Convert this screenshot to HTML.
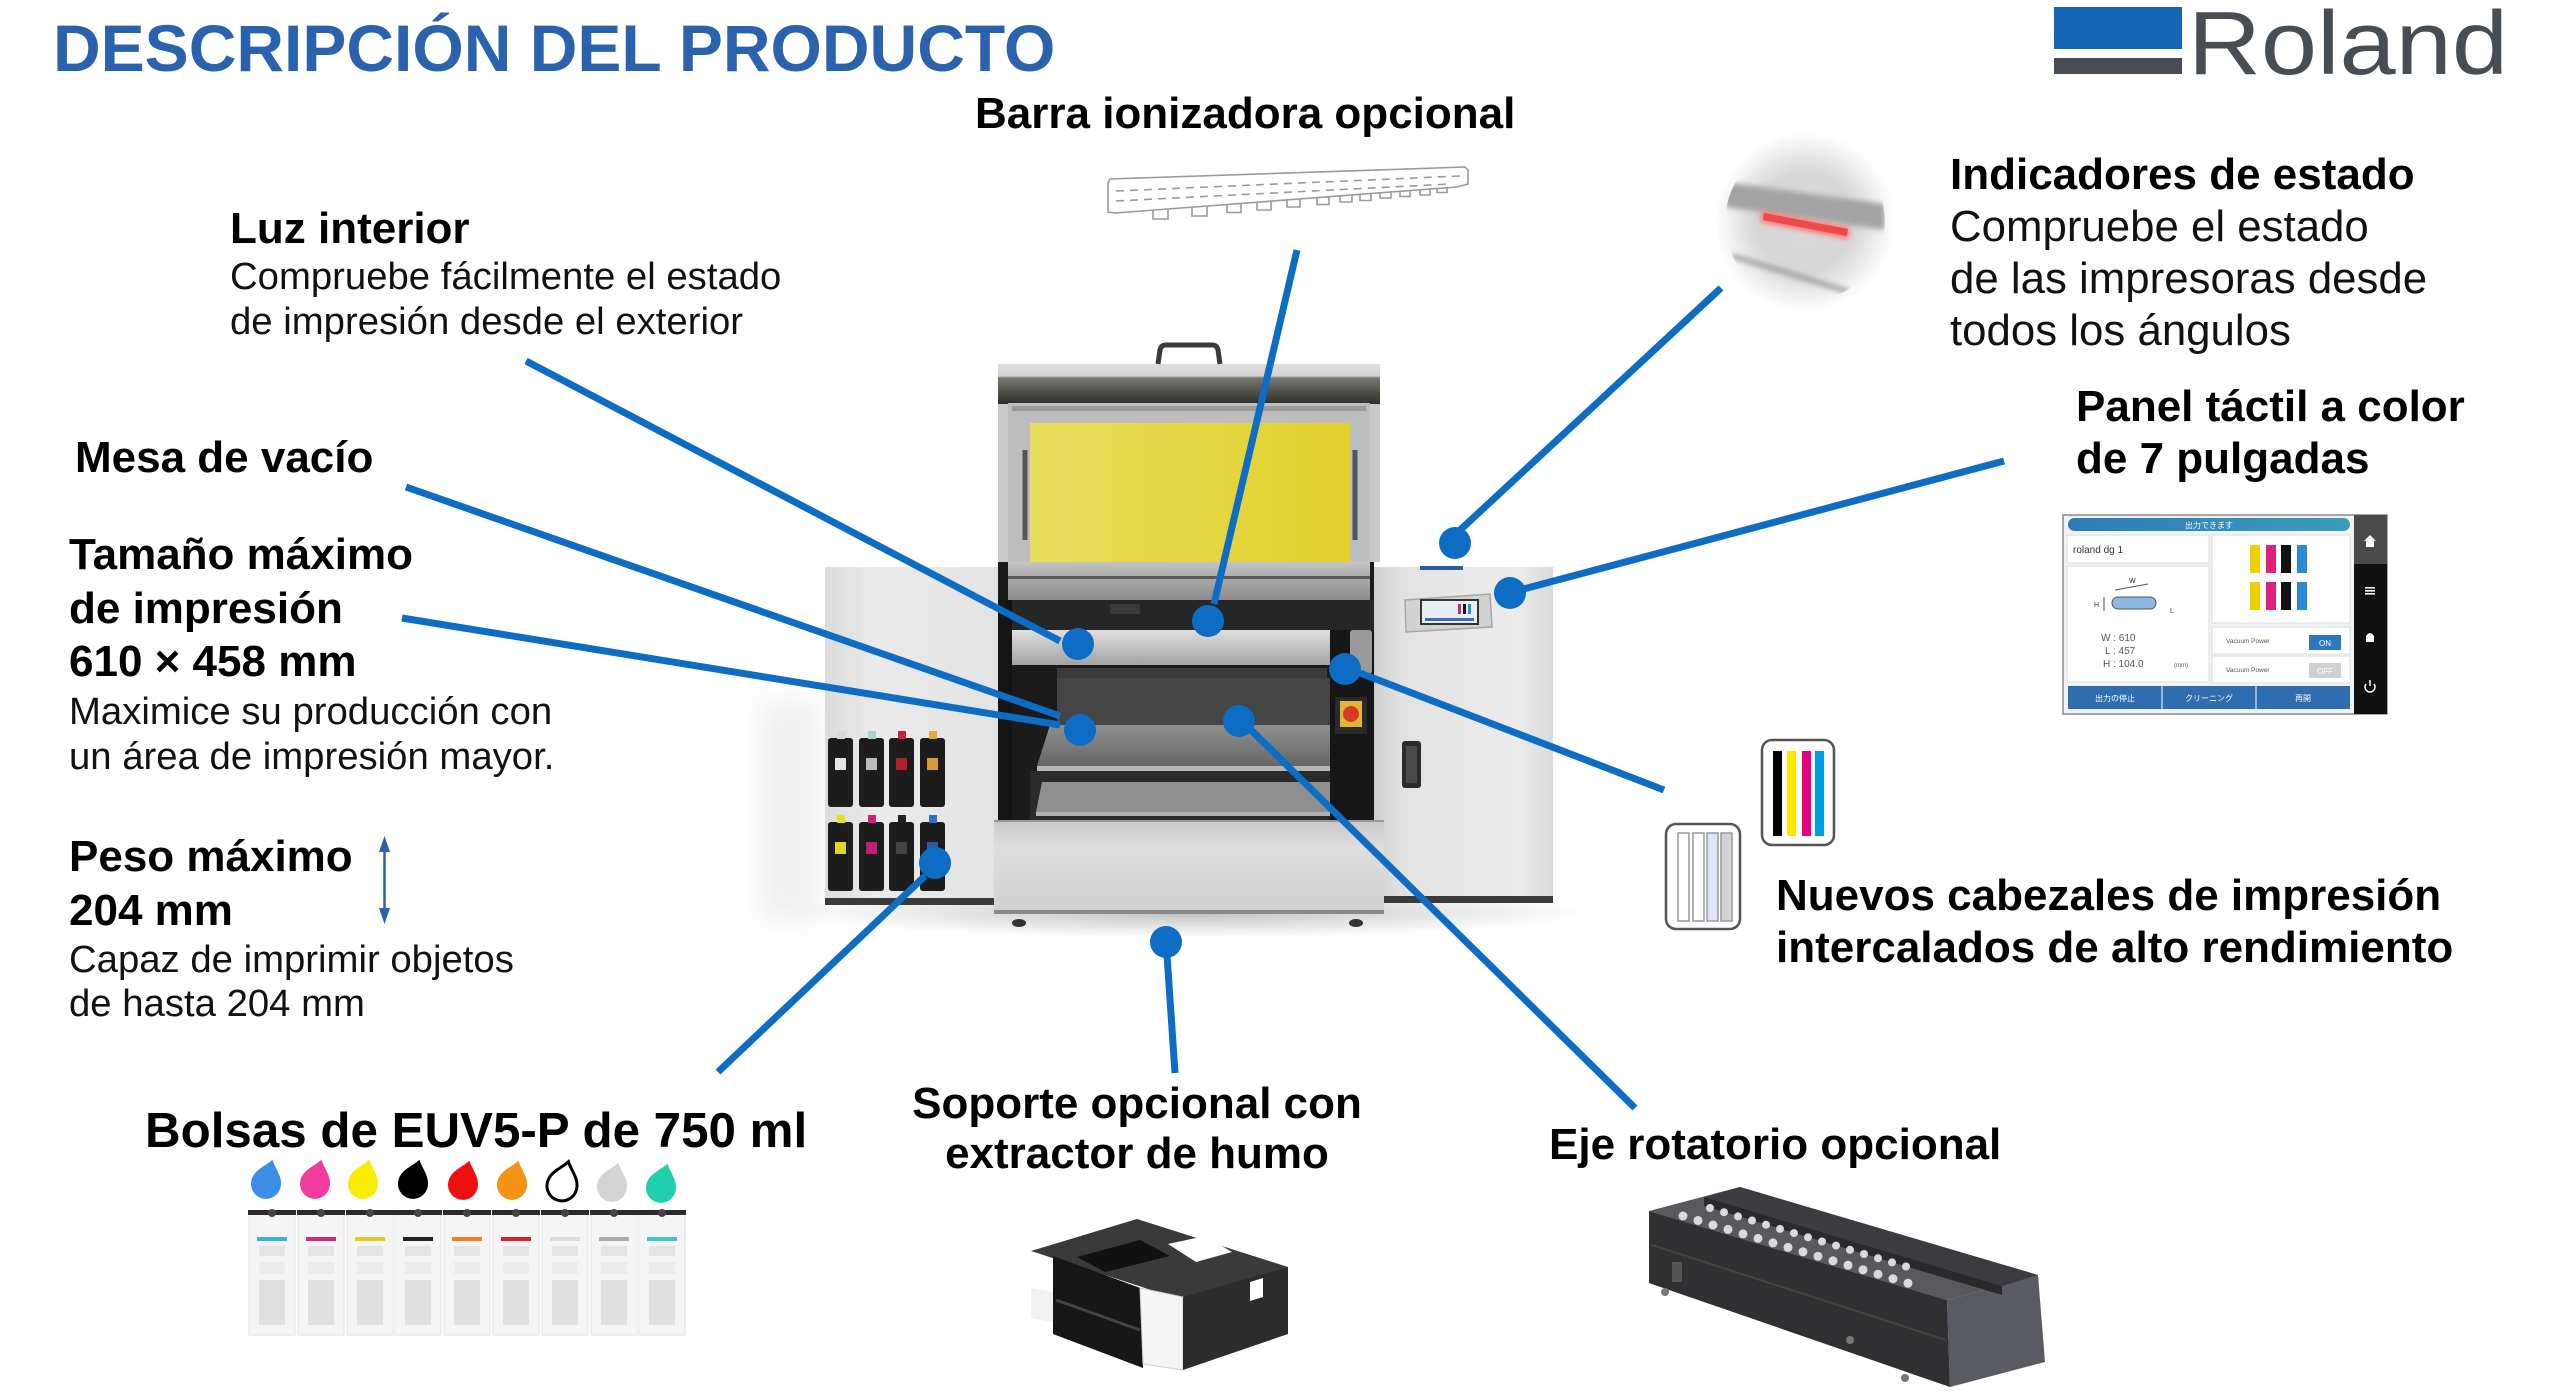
<!DOCTYPE html>
<html><head><meta charset="utf-8">
<style>
html,body{margin:0;padding:0;background:#fff;}
body{width:2560px;height:1395px;overflow:hidden;}
svg{display:block;}
text{font-family:"Liberation Sans","Noto Sans CJK JP",Arial,sans-serif;}
.b{font-weight:bold;font-size:44px;fill:#000;}
.r1{font-size:38.3px;fill:#111;}
.r2{font-size:43.8px;fill:#111;}
</style></head><body>
<svg width="2560" height="1395" viewBox="0 0 2560 1395" xmlns="http://www.w3.org/2000/svg">
<defs>
<linearGradient id="cabL" x1="0" y1="0" x2="1" y2="0"><stop offset="0" stop-color="#dcdcdc"/><stop offset="0.3" stop-color="#ebebeb"/><stop offset="1" stop-color="#e3e3e3"/></linearGradient>
<linearGradient id="cabR" x1="0" y1="0" x2="1" y2="0"><stop offset="0" stop-color="#cdcdcd"/><stop offset="0.15" stop-color="#e2e2e2"/><stop offset="0.8" stop-color="#ececec"/><stop offset="1" stop-color="#dadada"/></linearGradient>
<linearGradient id="lidTop" x1="0" y1="0" x2="0" y2="1"><stop offset="0" stop-color="#dedede"/><stop offset="0.3" stop-color="#d2d2d2"/><stop offset="0.35" stop-color="#77776c"/><stop offset="1" stop-color="#2e2e29"/></linearGradient>
<linearGradient id="yel" x1="0" y1="0" x2="1" y2="0"><stop offset="0" stop-color="#e8dc5c"/><stop offset="0.5" stop-color="#e5d744"/><stop offset="1" stop-color="#e2d02c"/></linearGradient>
<linearGradient id="metal" x1="0" y1="0" x2="0" y2="1"><stop offset="0" stop-color="#e0e0e0"/><stop offset="1" stop-color="#a2a2a2"/></linearGradient>
<linearGradient id="gant" x1="0" y1="0" x2="0" y2="1"><stop offset="0" stop-color="#c4c4c4"/><stop offset="1" stop-color="#8a8a8a"/></linearGradient>
<linearGradient id="tbl" x1="0" y1="0" x2="0" y2="1"><stop offset="0" stop-color="#909090"/><stop offset="1" stop-color="#666"/></linearGradient>
<linearGradient id="front" x1="0" y1="0" x2="0" y2="1"><stop offset="0" stop-color="#c8c8c8"/><stop offset="0.3" stop-color="#dedede"/><stop offset="1" stop-color="#d0d0d0"/></linearGradient>
<linearGradient id="pbar" x1="0" y1="0" x2="1" y2="0"><stop offset="0" stop-color="#2d7cb8"/><stop offset="1" stop-color="#3a9cb8"/></linearGradient>
<radialGradient id="shad" cx="0.5" cy="0.5" r="0.5"><stop offset="0" stop-color="#000" stop-opacity="0.25"/><stop offset="1" stop-color="#000" stop-opacity="0"/></radialGradient>
<radialGradient id="indg" cx="1805" cy="222" r="90" gradientUnits="userSpaceOnUse"><stop offset="0" stop-color="#dadada"/><stop offset="0.55" stop-color="#d7d7d7"/><stop offset="0.8" stop-color="#ededed"/><stop offset="1" stop-color="#ffffff"/></radialGradient>
<clipPath id="indc"><circle cx="1805" cy="222" r="80"/></clipPath>
<filter id="bl" x="-20%" y="-50%" width="140%" height="200%"><feGaussianBlur stdDeviation="3"/></filter>
<filter id="bl2" x="-50%" y="-50%" width="200%" height="200%"><feGaussianBlur stdDeviation="14"/></filter>
</defs>

<!-- Title -->
<text x="53" y="71" font-size="66" font-weight="bold" fill="#2b62ad">DESCRIPCIÓN DEL PRODUCTO</text>

<!-- Logo -->
<rect x="2054" y="7" width="128" height="42" fill="#1565b4"/>
<rect x="2054" y="58" width="128" height="16" fill="#474d53"/>
<text x="2188" y="74" font-size="90" fill="#474d53" textLength="320" lengthAdjust="spacingAndGlyphs">Roland</text>

<!-- Barra ionizadora drawing -->
<g fill="none" stroke="#9a9a9a" stroke-width="1.6">
<path d="M1108,183 L1110,179 L1465,167 L1468,170 L1468,184 L1457,187 L1115,213 L1108,212 Z"/>
<line x1="1116" y1="191" x2="1460" y2="176" stroke-dasharray="8,6"/>
<line x1="1116" y1="201" x2="1450" y2="184" stroke-dasharray="8,6"/>
<path d="M1153,210 v9 h15 v-10"/>
<path d="M1192,207 v9 h15 v-10"/>
<path d="M1227,204.5 v8 h14 v-9"/>
<path d="M1257,202 v8 h14 v-9"/>
<path d="M1287,200 v7 h13 v-8"/>
<path d="M1317,197.5 v7 h12 v-8"/>
<path d="M1340,196 v6 h12 v-7"/>
<path d="M1360,194.5 v6 h11 v-7"/>
<path d="M1380,193 v5 h11 v-6"/>
<path d="M1400,191.5 v5 h10 v-6"/>
<path d="M1420,190 v5 h10 v-6"/>
<path d="M1437,188.5 v4 h10 v-5"/>
</g>

<!-- Indicator image -->
<circle cx="1805" cy="222" r="90" fill="url(#indg)"/>
<g clip-path="url(#indc)">
<polygon points="1725,182 1885,204 1885,230 1725,207" fill="#a3a3a3" filter="url(#bl)"/>
<polygon points="1762,211 1850,228 1848,239 1760,222" fill="#ff7070" filter="url(#bl)"/>
<polygon points="1764,213 1848,229 1847,236 1763,220" fill="#ef4a4a"/>
<line x1="1732" y1="256" x2="1850" y2="292" stroke="#8a8a8a" stroke-width="4" filter="url(#bl)"/>
</g>

<!-- Printer shadow -->
<ellipse cx="1190" cy="912" rx="400" ry="26" fill="url(#shad)"/>
<rect x="760" y="700" width="60" height="220" fill="#000" opacity="0.06" filter="url(#bl2)"/>

<!-- Left cabinet -->
<rect x="825" y="567" width="175" height="337" fill="url(#cabL)"/>
<rect x="825" y="898" width="175" height="7" fill="#3a3a3a"/>
<g>
<rect x="828" y="738" width="25" height="69" rx="3" fill="#1c1c1c"/><rect x="837" y="731" width="8" height="8" fill="#d8d8d8"/><rect x="835" y="758" width="11" height="12" fill="#e6e6e6"/>
<rect x="859" y="738" width="25" height="69" rx="3" fill="#1c1c1c"/><rect x="868" y="731" width="8" height="8" fill="#a8d8d4"/><rect x="866" y="758" width="11" height="12" fill="#bbbbbb"/>
<rect x="889" y="738" width="25" height="69" rx="3" fill="#1c1c1c"/><rect x="898" y="731" width="8" height="8" fill="#c8203c"/><rect x="896" y="758" width="11" height="12" fill="#b02030"/>
<rect x="920" y="738" width="25" height="69" rx="3" fill="#1c1c1c"/><rect x="929" y="731" width="8" height="8" fill="#e8a838"/><rect x="927" y="758" width="11" height="12" fill="#d89a30"/>
<rect x="828" y="822" width="25" height="69" rx="3" fill="#1c1c1c"/><rect x="837" y="815" width="8" height="8" fill="#e8e020"/><rect x="835" y="842" width="11" height="12" fill="#e0d820"/>
<rect x="859" y="822" width="25" height="69" rx="3" fill="#1c1c1c"/><rect x="868" y="815" width="8" height="8" fill="#d02080"/><rect x="866" y="842" width="11" height="12" fill="#c02070"/>
<rect x="889" y="822" width="25" height="69" rx="3" fill="#1c1c1c"/><rect x="898" y="815" width="8" height="8" fill="#222"/><rect x="896" y="842" width="11" height="12" fill="#444"/>
<rect x="920" y="822" width="25" height="69" rx="3" fill="#1c1c1c"/><rect x="929" y="815" width="8" height="8" fill="#3070c0"/><rect x="927" y="842" width="11" height="12" fill="#2a5aa0"/>
</g>

<!-- Right cabinet -->
<rect x="1373" y="567" width="180" height="335" fill="url(#cabR)"/>
<rect x="1373" y="896" width="180" height="7" fill="#3a3a3a"/>
<rect x="1402" y="741" width="19" height="47" rx="3" fill="#2b2b2b"/>
<rect x="1406" y="746" width="11" height="37" fill="#4a4a4a"/>
<rect x="1420" y="566" width="43" height="4" fill="#2a5aa0"/>
<polygon points="1405,600 1490,594 1492,627 1406,632" fill="#d2d2d2" stroke="#a5a5a5" stroke-width="1.5"/>
<rect x="1421" y="600" width="57" height="24" fill="#e9eef5" stroke="#333" stroke-width="2"/>
<rect x="1425" y="618" width="49" height="3" fill="#3b6fb5"/>
<rect x="1458" y="604" width="3" height="10" fill="#d02080"/><rect x="1463" y="604" width="3" height="10" fill="#111"/><rect x="1468" y="604" width="3" height="10" fill="#2a8ad8"/>

<!-- Main body center -->
<rect x="998" y="560" width="376" height="262" fill="#1b1b1b"/>
<!-- Lid -->
<rect x="998" y="364" width="382" height="198" fill="#c9c9c9"/>
<rect x="998" y="364" width="382" height="40" fill="url(#lidTop)"/>
<rect x="1008" y="403" width="362" height="159" fill="#bdbdbd"/>
<rect x="1012" y="406" width="354" height="5" fill="#9a9a9a"/>
<rect x="1030" y="423" width="320" height="139" fill="url(#yel)"/>
<line x1="1025" y1="450" x2="1025" y2="540" stroke="#555" stroke-width="5"/>
<line x1="1355" y1="450" x2="1355" y2="540" stroke="#555" stroke-width="5"/>
<path d="M1158,364 L1160,350 Q1161,345 1166,345 L1212,345 Q1217,345 1218,350 L1220,364" stroke="#3a3a3a" stroke-width="5" fill="none"/>
<!-- gantry -->
<rect x="1008" y="562" width="362" height="38" fill="url(#gant)"/>
<rect x="1008" y="576" width="362" height="3" fill="#5a5a5a"/>
<rect x="1003" y="600" width="371" height="30" fill="#262626"/>
<rect x="1110" y="604" width="30" height="10" fill="#3a3a3a"/>
<polygon points="1010,630 1330,630 1330,665 1010,665" fill="url(#metal)"/>
<rect x="1057" y="668" width="270" height="10" fill="#3a3a3a"/>
<rect x="1057" y="678" width="273" height="48" fill="#454545"/>
<rect x="1003" y="665" width="54" height="61" fill="#1a1a1a"/>
<polygon points="1050,725 1331,725 1334,766 1037,766" fill="url(#tbl)"/>
<rect x="1037" y="766" width="297" height="5" fill="#b5b5b5"/>
<rect x="1030" y="771" width="305" height="50" fill="#2a2a2a"/>
<polygon points="1042,782 1330,782 1334,812 1036,812" fill="#8f8f8f"/>
<rect x="1036" y="812" width="298" height="4" fill="#b0b0b0"/>
<rect x="998" y="600" width="14" height="222" fill="#141414"/>
<rect x="1330" y="630" width="44" height="192" fill="#161616"/>
<rect x="1350" y="630" width="22" height="44" rx="3" fill="#9a9a9a"/>
<rect x="1335" y="697" width="32" height="37" fill="#2a2a2a"/>
<rect x="1340" y="701" width="22" height="26" fill="#e2b632"/>
<circle cx="1351" cy="714" r="8" fill="#d83a2a"/>
<!-- front lower -->
<rect x="994" y="820" width="390" height="94" fill="url(#front)"/>
<rect x="994" y="820" width="390" height="2" fill="#999"/>
<rect x="994" y="910" width="390" height="4" fill="#8a8a8a"/>
<ellipse cx="1019" cy="923" rx="7" ry="4" fill="#333"/>
<ellipse cx="1356" cy="923" rx="7" ry="4" fill="#333"/>

<!-- Connectors -->
<g stroke="#0d6cc3" stroke-width="7" fill="none">
<line x1="526" y1="361" x2="1060" y2="641"/>
<line x1="1297" y1="250" x2="1214" y2="604"/>
<line x1="406" y1="487" x2="1060" y2="716"/>
<line x1="402" y1="618" x2="1060" y2="725"/>
<line x1="1250" y1="729" x2="1635" y2="1108"/>
<line x1="1360" y1="673" x2="1664" y2="790"/>
<line x1="1458" y1="532" x2="1721" y2="288"/>
<line x1="1520" y1="590" x2="2004" y2="461"/>
<line x1="925" y1="876" x2="718" y2="1072"/>
<line x1="1167" y1="955" x2="1175" y2="1073"/>
</g>
<g fill="#0d6cc3">
<circle cx="1078" cy="644" r="16"/>
<circle cx="1208" cy="621" r="16"/>
<circle cx="1080" cy="730" r="16"/>
<circle cx="1239" cy="721" r="16"/>
<circle cx="1345" cy="669" r="16"/>
<circle cx="1455" cy="543" r="16"/>
<circle cx="1510" cy="593" r="16"/>
<circle cx="935" cy="863" r="16"/>
<circle cx="1166" cy="942" r="16"/>
</g>

<!-- Left labels -->
<text class="b" x="975" y="128">Barra ionizadora opcional</text>
<text class="b" x="230" y="243">Luz interior</text>
<text class="r1" x="230" y="289">Compruebe fácilmente el estado</text>
<text class="r1" x="230" y="334">de impresión desde el exterior</text>
<text class="b" x="75" y="472">Mesa de vacío</text>
<text class="b" x="69" y="569">Tamaño máximo</text>
<text class="b" x="69" y="623">de impresión</text>
<text class="b" x="69" y="676">610 × 458 mm</text>
<text class="r1" x="69" y="724">Maximice su producción con</text>
<text class="r1" x="69" y="769">un área de impresión mayor.</text>
<text class="b" x="69" y="871">Peso máximo</text>
<text class="b" x="69" y="925">204 mm</text>
<text class="r1" x="69" y="972">Capaz de imprimir objetos</text>
<text class="r1" x="69" y="1016">de hasta 204 mm</text>
<line x1="384.5" y1="848" x2="384.5" y2="912" stroke="#2e5fa8" stroke-width="2.5"/>
<polygon points="384.5,836 379,852 390,852" fill="#2e5fa8"/>
<polygon points="384.5,924 379,908 390,908" fill="#2e5fa8"/>

<!-- Right labels -->
<text class="b" x="1950" y="189">Indicadores de estado</text>
<text class="r2" x="1950" y="241">Compruebe el estado</text>
<text class="r2" x="1950" y="293">de las impresoras desde</text>
<text class="r2" x="1950" y="345">todos los ángulos</text>
<text class="b" x="2076" y="421">Panel táctil a color</text>
<text class="b" x="2076" y="473">de 7 pulgadas</text>
<text class="b" x="1776" y="910">Nuevos cabezales de impresión</text>
<text class="b" x="1776" y="962">intercalados de alto rendimiento</text>
<text class="b" x="1549" y="1159">Eje rotatorio opcional</text>
<text class="b" x="1137" y="1118" text-anchor="middle">Soporte opcional con</text>
<text class="b" x="1137" y="1168" text-anchor="middle">extractor de humo</text>
<text x="145" y="1147" font-size="49.3" font-weight="bold" fill="#000">Bolsas de EUV5-P de 750 ml</text>

<!-- Panel screenshot -->
<g>
<rect x="2063" y="515" width="324" height="199" fill="#f1f4f7" stroke="#8a8a8a" stroke-width="1.5"/>
<rect x="2354" y="515" width="33" height="199" fill="#111"/>
<rect x="2354" y="515" width="33" height="49" fill="#4a4a4a"/>
<path d="M2364,541 L2370,535 L2376,541 L2374,541 L2374,547 L2366,547 L2366,541 Z" fill="#fff"/>
<rect x="2365" y="587" width="10" height="1.6" fill="#fff"/><rect x="2365" y="590" width="10" height="1.6" fill="#fff"/><rect x="2365" y="593" width="10" height="1.6" fill="#fff"/>
<path d="M2366,642 L2366,636 Q2370,630 2374,636 L2374,642 Z" fill="#fff"/>
<path d="M2366,684 A5,5 0 1 0 2374,684" stroke="#fff" stroke-width="1.5" fill="none"/><line x1="2370" y1="680" x2="2370" y2="686" stroke="#fff" stroke-width="1.5"/>
<rect x="2068" y="518" width="282" height="13" rx="6.5" fill="url(#pbar)"/>
<text x="2209" y="528" font-size="8" fill="#fff" text-anchor="middle">出力できます</text>
<rect x="2067" y="535" width="142" height="28" fill="#fff" stroke="#ddd"/>
<text x="2073" y="553" font-size="10" fill="#333">roland dg 1</text>
<rect x="2067" y="566" width="142" height="116" fill="#fff" stroke="#ddd"/>
<rect x="2112" y="597" width="44" height="12" rx="6" fill="#8fb8e0" stroke="#456" stroke-width="1"/>
<line x1="2115" y1="590" x2="2148" y2="584" stroke="#555" stroke-width="1"/>
<text x="2129" y="583" font-size="7" fill="#333">W</text>
<line x1="2104" y1="597" x2="2104" y2="611" stroke="#555" stroke-width="1"/>
<text x="2094" y="607" font-size="7" fill="#333">H</text>
<text x="2170" y="613" font-size="7" fill="#333">L</text>
<text x="2101" y="641" font-size="10" fill="#555">W :  610</text>
<text x="2105" y="654" font-size="10" fill="#555">L :  457</text>
<text x="2103" y="667" font-size="10" fill="#555">H :  104.0</text>
<text x="2174" y="667" font-size="6" fill="#555">(mm)</text>
<rect x="2212" y="535" width="138" height="88" fill="#fff" stroke="#ddd"/>
<rect x="2250" y="545" width="10" height="28" fill="#f0d000"/><rect x="2266" y="545" width="10" height="28" fill="#e0207a"/><rect x="2281" y="545" width="10" height="28" fill="#111"/><rect x="2297" y="545" width="10" height="28" fill="#2a8ad8"/>
<rect x="2250" y="582" width="10" height="28" fill="#f0d000"/><rect x="2266" y="582" width="10" height="28" fill="#e0207a"/><rect x="2281" y="582" width="10" height="28" fill="#111"/><rect x="2297" y="582" width="10" height="28" fill="#2a8ad8"/>
<rect x="2212" y="627" width="138" height="27" fill="#fff" stroke="#ddd"/>
<text x="2226" y="643" font-size="6.5" fill="#555">Vacuum Power</text>
<rect x="2309" y="635" width="32" height="15" fill="#2a78be"/>
<text x="2325" y="646" font-size="8" fill="#fff" text-anchor="middle">ON</text>
<rect x="2212" y="656" width="138" height="27" fill="#fff" stroke="#ddd"/>
<text x="2226" y="672" font-size="6.5" fill="#555">Vacuum Power</text>
<rect x="2309" y="663" width="32" height="15" fill="#d0d0d0"/>
<text x="2325" y="674" font-size="8" fill="#fff" text-anchor="middle">OFF</text>
<rect x="2068" y="686" width="282" height="23" fill="#2f6db0"/>
<line x1="2162" y1="686" x2="2162" y2="709" stroke="#fff" stroke-width="1"/>
<line x1="2256" y1="686" x2="2256" y2="709" stroke="#fff" stroke-width="1"/>
<text x="2115" y="701" font-size="8" fill="#fff" text-anchor="middle">出力の停止</text>
<text x="2209" y="701" font-size="8" fill="#fff" text-anchor="middle">クリーニング</text>
<text x="2303" y="701" font-size="8" fill="#fff" text-anchor="middle">再開</text>
</g>

<!-- Heads icons -->
<rect x="1762" y="740" width="72" height="105" rx="10" fill="#fff" stroke="#555" stroke-width="2.5"/>
<rect x="1773" y="751" width="9" height="85" fill="#000"/>
<rect x="1787" y="751" width="9" height="85" fill="#ffe600"/>
<rect x="1802" y="751" width="9" height="85" fill="#e6007e"/>
<rect x="1815" y="751" width="9" height="85" fill="#00a0e0"/>
<rect x="1666" y="824" width="74" height="105" rx="10" fill="#fff" stroke="#555" stroke-width="2.5"/>
<rect x="1678" y="833" width="11" height="88" fill="#fff" stroke="#999" stroke-width="1.5"/>
<rect x="1693" y="833" width="11" height="88" fill="#fff" stroke="#999" stroke-width="1.5"/>
<rect x="1707" y="833" width="11" height="88" fill="#dde6f2" stroke="#999" stroke-width="1.5"/>
<rect x="1721" y="833" width="11" height="88" fill="#d4d4d4" stroke="#999" stroke-width="1.5"/>

<!-- Drops -->
<g>
<path transform="translate(267,1180) rotate(15)" d="M0,-21 C5,-13 15,-7 15,4 A15,15 0 0 1 -15,4 C-15,-7 -5,-13 0,-21 Z" fill="#3c8ee8"/>
<path transform="translate(316,1180) rotate(15)" d="M0,-21 C5,-13 15,-7 15,4 A15,15 0 0 1 -15,4 C-15,-7 -5,-13 0,-21 Z" fill="#f03c9c"/>
<path transform="translate(364,1180) rotate(15)" d="M0,-21 C5,-13 15,-7 15,4 A15,15 0 0 1 -15,4 C-15,-7 -5,-13 0,-21 Z" fill="#f8ec00"/>
<path transform="translate(414,1180) rotate(15)" d="M0,-21 C5,-13 15,-7 15,4 A15,15 0 0 1 -15,4 C-15,-7 -5,-13 0,-21 Z" fill="#000"/>
<path transform="translate(464,1181) rotate(15)" d="M0,-21 C5,-13 15,-7 15,4 A15,15 0 0 1 -15,4 C-15,-7 -5,-13 0,-21 Z" fill="#ee1010"/>
<path transform="translate(513,1181) rotate(15)" d="M0,-21 C5,-13 15,-7 15,4 A15,15 0 0 1 -15,4 C-15,-7 -5,-13 0,-21 Z" fill="#f39416"/>
<path transform="translate(563,1182) rotate(15)" d="M0,-21 C5,-13 15,-7 15,4 A15,15 0 0 1 -15,4 C-15,-7 -5,-13 0,-21 Z" fill="#fff" stroke="#000" stroke-width="3"/>
<path transform="translate(613,1183) rotate(15)" d="M0,-21 C5,-13 15,-7 15,4 A15,15 0 0 1 -15,4 C-15,-7 -5,-13 0,-21 Z" fill="#d4d4d4"/>
<path transform="translate(662,1184) rotate(15)" d="M0,-21 C5,-13 15,-7 15,4 A15,15 0 0 1 -15,4 C-15,-7 -5,-13 0,-21 Z" fill="#1fcfae"/>
</g>

<!-- Ink bags -->
<g>
<g transform="translate(249,0)"><rect x="0" y="1213" width="46" height="122" fill="#f5f5f5" stroke="#e2e2e2"/><rect x="-1" y="1210" width="48" height="5" fill="#2a2a2a"/><circle cx="23" cy="1213" r="4" fill="#444"/><rect x="8" y="1237" width="30" height="4" fill="#3ab0e0"/><rect x="10" y="1246" width="26" height="10" fill="#e4e4e4"/><rect x="10" y="1262" width="26" height="12" fill="#ececec"/><rect x="10" y="1280" width="26" height="45" fill="#e0e0e0"/></g>
<g transform="translate(298,0)"><rect x="0" y="1213" width="46" height="122" fill="#f5f5f5" stroke="#e2e2e2"/><rect x="-1" y="1210" width="48" height="5" fill="#2a2a2a"/><circle cx="23" cy="1213" r="4" fill="#444"/><rect x="8" y="1237" width="30" height="4" fill="#d02a7a"/><rect x="10" y="1246" width="26" height="10" fill="#e4e4e4"/><rect x="10" y="1262" width="26" height="12" fill="#ececec"/><rect x="10" y="1280" width="26" height="45" fill="#e0e0e0"/></g>
<g transform="translate(347,0)"><rect x="0" y="1213" width="46" height="122" fill="#f5f5f5" stroke="#e2e2e2"/><rect x="-1" y="1210" width="48" height="5" fill="#2a2a2a"/><circle cx="23" cy="1213" r="4" fill="#444"/><rect x="8" y="1237" width="30" height="4" fill="#e8c820"/><rect x="10" y="1246" width="26" height="10" fill="#e4e4e4"/><rect x="10" y="1262" width="26" height="12" fill="#ececec"/><rect x="10" y="1280" width="26" height="45" fill="#e0e0e0"/></g>
<g transform="translate(395,0)"><rect x="0" y="1213" width="46" height="122" fill="#f5f5f5" stroke="#e2e2e2"/><rect x="-1" y="1210" width="48" height="5" fill="#2a2a2a"/><circle cx="23" cy="1213" r="4" fill="#444"/><rect x="8" y="1237" width="30" height="4" fill="#222"/><rect x="10" y="1246" width="26" height="10" fill="#e4e4e4"/><rect x="10" y="1262" width="26" height="12" fill="#ececec"/><rect x="10" y="1280" width="26" height="45" fill="#e0e0e0"/></g>
<g transform="translate(444,0)"><rect x="0" y="1213" width="46" height="122" fill="#f5f5f5" stroke="#e2e2e2"/><rect x="-1" y="1210" width="48" height="5" fill="#2a2a2a"/><circle cx="23" cy="1213" r="4" fill="#444"/><rect x="8" y="1237" width="30" height="4" fill="#f08020"/><rect x="10" y="1246" width="26" height="10" fill="#e4e4e4"/><rect x="10" y="1262" width="26" height="12" fill="#ececec"/><rect x="10" y="1280" width="26" height="45" fill="#e0e0e0"/></g>
<g transform="translate(493,0)"><rect x="0" y="1213" width="46" height="122" fill="#f5f5f5" stroke="#e2e2e2"/><rect x="-1" y="1210" width="48" height="5" fill="#2a2a2a"/><circle cx="23" cy="1213" r="4" fill="#444"/><rect x="8" y="1237" width="30" height="4" fill="#e02030"/><rect x="10" y="1246" width="26" height="10" fill="#e4e4e4"/><rect x="10" y="1262" width="26" height="12" fill="#ececec"/><rect x="10" y="1280" width="26" height="45" fill="#e0e0e0"/></g>
<g transform="translate(542,0)"><rect x="0" y="1213" width="46" height="122" fill="#f5f5f5" stroke="#e2e2e2"/><rect x="-1" y="1210" width="48" height="5" fill="#2a2a2a"/><circle cx="23" cy="1213" r="4" fill="#444"/><rect x="8" y="1237" width="30" height="4" fill="#dcdcdc"/><rect x="10" y="1246" width="26" height="10" fill="#e4e4e4"/><rect x="10" y="1262" width="26" height="12" fill="#ececec"/><rect x="10" y="1280" width="26" height="45" fill="#e0e0e0"/></g>
<g transform="translate(591,0)"><rect x="0" y="1213" width="46" height="122" fill="#f5f5f5" stroke="#e2e2e2"/><rect x="-1" y="1210" width="48" height="5" fill="#2a2a2a"/><circle cx="23" cy="1213" r="4" fill="#444"/><rect x="8" y="1237" width="30" height="4" fill="#aaaaaa"/><rect x="10" y="1246" width="26" height="10" fill="#e4e4e4"/><rect x="10" y="1262" width="26" height="12" fill="#ececec"/><rect x="10" y="1280" width="26" height="45" fill="#e0e0e0"/></g>
<g transform="translate(639,0)"><rect x="0" y="1213" width="46" height="122" fill="#f5f5f5" stroke="#e2e2e2"/><rect x="-1" y="1210" width="48" height="5" fill="#2a2a2a"/><circle cx="23" cy="1213" r="4" fill="#444"/><rect x="8" y="1237" width="30" height="4" fill="#40c8c0"/><rect x="10" y="1246" width="26" height="10" fill="#e4e4e4"/><rect x="10" y="1262" width="26" height="12" fill="#ececec"/><rect x="10" y="1280" width="26" height="45" fill="#e0e0e0"/></g>
</g>

<!-- Soporte image -->
<g>
<polygon points="1031,1251 1137,1219 1288,1267 1182,1300" fill="#3a3a3a"/>
<polygon points="1077,1257 1140,1240 1170,1256 1105,1272" fill="#111"/>
<polygon points="1168,1244 1205,1236 1232,1252 1196,1262" fill="#fff"/>
<polygon points="1053,1256 1143,1289 1143,1368 1053,1334" fill="#161616"/>
<line x1="1056" y1="1300" x2="1140" y2="1330" stroke="#444" stroke-width="3"/>
<polygon points="1031,1288 1053,1292 1053,1322 1031,1318" fill="#f2f2f2"/>
<polygon points="1140,1288 1183,1297 1183,1370 1143,1364" fill="#f5f5f5" stroke="#cfcfcf"/>
<polygon points="1183,1297 1288,1267 1288,1334 1183,1370" fill="#2c2c2c"/>
<polygon points="1250,1282 1263,1278 1263,1297 1250,1301" fill="#fff"/>
</g>

<!-- Rotary image -->
<g>
<polygon points="1649,1211 1740,1187 2038,1275 1947,1300" fill="#58585d"/>
<polygon points="1649,1211 1947,1300 1950,1387 1649,1283" fill="#303033"/>
<polygon points="1947,1300 2038,1275 2045,1362 1950,1387" fill="#5a5a62"/>
<polygon points="1704,1197 1740,1187 2038,1275 2002,1286" fill="#3c3c40"/>
<polygon points="1704,1197 2002,1286 2002,1295 1704,1206" fill="#2a2a2d"/>
<g fill="#dadade">
<circle cx="1683" cy="1216" r="4.5"/><circle cx="1698" cy="1220.5" r="4.5"/><circle cx="1713" cy="1225" r="4.5"/><circle cx="1728" cy="1229.4" r="4.5"/><circle cx="1743" cy="1233.9" r="4.5"/><circle cx="1758" cy="1238.4" r="4.5"/><circle cx="1773" cy="1242.9" r="4.5"/><circle cx="1788" cy="1247.4" r="4.5"/><circle cx="1803" cy="1251.8" r="4.5"/><circle cx="1818" cy="1256.3" r="4.5"/><circle cx="1833" cy="1260.8" r="4.5"/><circle cx="1848" cy="1265.3" r="4.5"/><circle cx="1863" cy="1269.8" r="4.5"/><circle cx="1878" cy="1274.2" r="4.5"/><circle cx="1893" cy="1278.7" r="4.5"/><circle cx="1908" cy="1283.2" r="4.5"/>
<circle cx="1710" cy="1208" r="4"/><circle cx="1724" cy="1212.2" r="4"/><circle cx="1738" cy="1216.4" r="4"/><circle cx="1752" cy="1220.5" r="4"/><circle cx="1766" cy="1224.7" r="4"/><circle cx="1780" cy="1228.9" r="4"/><circle cx="1794" cy="1233.1" r="4"/><circle cx="1808" cy="1237.3" r="4"/><circle cx="1822" cy="1241.5" r="4"/><circle cx="1836" cy="1245.6" r="4"/><circle cx="1850" cy="1249.8" r="4"/><circle cx="1864" cy="1254" r="4"/><circle cx="1878" cy="1258.2" r="4"/><circle cx="1892" cy="1262.4" r="4"/><circle cx="1906" cy="1266.5" r="4"/>
</g>
<line x1="1652" y1="1245" x2="1946" y2="1340" stroke="#444" stroke-width="2"/>
<rect x="1672" y="1262" width="10" height="20" fill="#555"/>
<circle cx="1665" cy="1292" r="4" fill="#777"/>
<circle cx="1850" cy="1340" r="4" fill="#777"/>
<circle cx="1905" cy="1378" r="4" fill="#777"/>
</g>
</svg>
</body></html>
